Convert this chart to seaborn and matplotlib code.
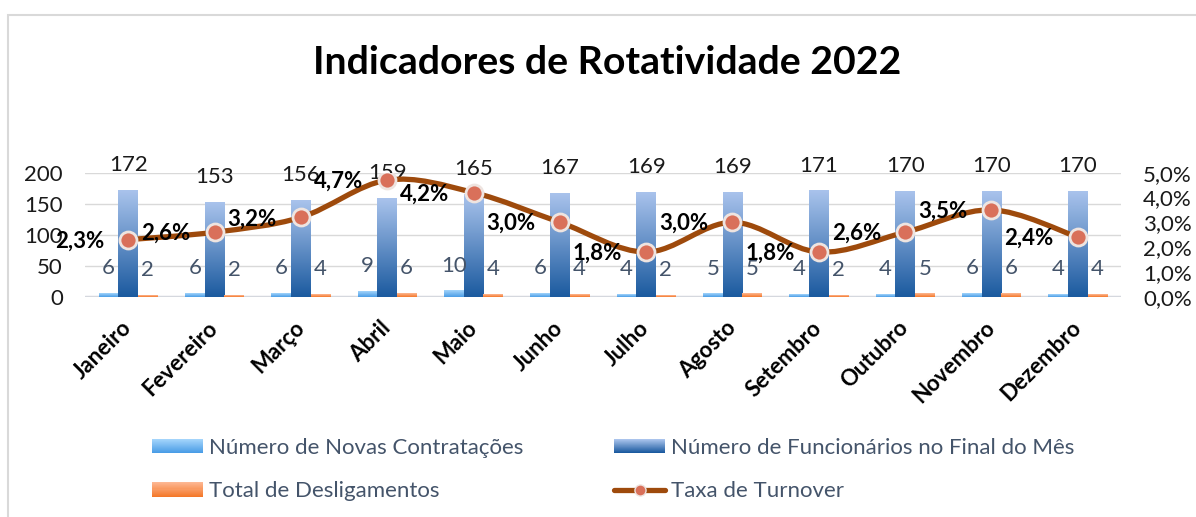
import numpy as np
import pandas as pd
import seaborn as sns
import matplotlib.pyplot as plt
from matplotlib.colors import LinearSegmentedColormap
from matplotlib.path import Path
from matplotlib.patches import PathPatch, Patch, Rectangle
from matplotlib.lines import Line2D
from matplotlib.legend_handler import HandlerBase
from matplotlib.ticker import FuncFormatter

# Dados do gráfico
meses = ["Janeiro", "Fevereiro", "Março", "Abril", "Maio", "Junho",
         "Julho", "Agosto", "Setembro", "Outubro", "Novembro", "Dezembro"]
novas_contratacoes = [6, 6, 6, 9, 10, 6, 4, 5, 4, 4, 6, 4]
funcionarios_final = [172, 153, 156, 159, 165, 167, 169, 169, 171, 170, 170, 170]
desligamentos = [2, 2, 4, 6, 4, 4, 2, 5, 2, 5, 6, 4]
taxa_turnover = [0.023, 0.026, 0.032, 0.047, 0.042, 0.030,
                 0.018, 0.030, 0.018, 0.026, 0.035, 0.024]

series_names = ["Número de Novas Contratações",
                "Número de Funcionários no Final do Mês",
                "Total de Desligamentos"]
line_name = "Taxa de Turnover"

# gradientes (base, topo) de cada série
gradients = {
    series_names[0]: ("#4a9de6", "#a3d4fb"),
    series_names[1]: ("#1b5a9f", "#a9c3ec"),
    series_names[2]: ("#f4782a", "#fdb792"),
}
cmaps = {k: LinearSegmentedColormap.from_list(k, v) for k, v in gradients.items()}
flat_colors = {k: v[0] for k, v in gradients.items()}
line_color = "#9e4a0c"
label_grey = "#44546a"


def smooth_path(xs, ys):
    # curva suavizada (estilo Excel) passando pelos pontos
    pts = np.column_stack([xs, ys])
    n = len(pts)
    verts = [pts[0]]
    codes = [Path.MOVETO]
    for i in range(n - 1):
        p0 = pts[max(i - 1, 0)]
        p1 = pts[i]
        p2 = pts[i + 1]
        p3 = pts[min(i + 2, n - 1)]
        verts += [p1 + (p2 - p0) / 6, p2 - (p3 - p1) / 6, p2]
        codes += [Path.CURVE4] * 3
    return Path(verts, codes)


class GradientHandler(HandlerBase):
    # retângulo com degradê vertical na legenda
    def __init__(self, cmap):
        super().__init__()
        self.cmap = cmap

    def create_artists(self, legend, orig_handle, xdescent, ydescent,
                       width, height, fontsize, trans):
        n = 14
        arts = []
        for i in range(n):
            arts.append(Rectangle((-xdescent, -ydescent + height * i / n), width,
                                  height / n * 1.05, facecolor=self.cmap(i / (n - 1)),
                                  edgecolor="none", transform=trans))
        return arts


df = pd.DataFrame({
    "mes": meses * 3,
    "serie": [series_names[0]] * 12 + [series_names[1]] * 12 + [series_names[2]] * 12,
    "valor": novas_contratacoes + funcionarios_final + desligamentos,
})

sns.set_theme(style="white")
plt.rcParams["font.family"] = ["Lato", "DejaVu Sans"]

fig = plt.figure(figsize=(11.96, 5.17), dpi=100)
ax = fig.add_axes([85 / 1196, 1 - 296.7 / 517, 1036 / 1196, 124 / 517])

sns.barplot(data=df, x="mes", y="valor", hue="serie", hue_order=series_names,
            palette=flat_colors, width=0.68, errorbar=None, legend=False, ax=ax)

# gradiente vertical nas barras + rótulos de dados
for container, name in zip(ax.containers, series_names):
    for bar in container:
        x0, w, h = bar.get_x(), bar.get_width(), bar.get_height()
        ax.imshow(np.linspace(0, 1, 128).reshape(-1, 1), cmap=cmaps[name], origin="lower",
                  extent=[x0, x0 + w, 0, h], aspect="auto", zorder=2)
        bar.set_visible(False)
        color = "#1a1a1a" if name == series_names[1] else label_grey
        ax.annotate(f"{h:.0f}", (x0 + w / 2, h), xytext=(0, 18),
                    textcoords="offset points", ha="center", va="center",
                    fontsize=16, color=color, annotation_clip=False)

ax.set_xlim(-0.5, 11.5)
ax.set_ylim(0, 200)
ax.set_yticks([0, 50, 100, 150, 200])
ax.yaxis.grid(True, color="#d9d9d9", lw=1)
ax.set_axisbelow(True)
ax.axhline(0, color="#d5d8de", lw=2.5, zorder=1)
ax.set_xlabel("")
ax.set_ylabel("")
ax.tick_params(axis="y", length=0, pad=16, labelsize=16, labelcolor="#1a1a1a")
ax.tick_params(axis="x", length=0, pad=20, labelsize=16, labelcolor="#000000")
plt.setp(ax.get_xticklabels(), rotation=45, ha="right", va="center",
         rotation_mode="anchor", fontweight="bold")
for s in ax.spines.values():
    s.set_visible(False)

# eixo secundário: taxa de turnover
ax2 = ax.twinx()
xs = np.arange(len(meses))
ax2.add_patch(PathPatch(smooth_path(xs, taxa_turnover), fill=False,
                        edgecolor=line_color, lw=3.8, capstyle="round", zorder=3))
sns.scatterplot(x=xs, y=taxa_turnover, ax=ax2, s=150, color="#d9705a",
                edgecolor="#eee4e0", linewidth=2, zorder=4)
for x, v in zip(xs, taxa_turnover):
    ax2.annotate(f"{v * 100:.1f}%".replace(".", ","), (x, v), xytext=(-35, -1),
                 textcoords="offset points", ha="center", va="center",
                 fontsize=16, fontweight="bold", color="#000000", zorder=5)
ax2.set_ylim(0, 0.05)
ax2.set_yticks([0, 0.01, 0.02, 0.03, 0.04, 0.05])
ax2.yaxis.set_major_formatter(FuncFormatter(lambda v, _: f"{v * 100:.1f}%".replace(".", ",")))
ax2.tick_params(axis="y", length=0, pad=16, labelsize=16, labelcolor="#1a1a1a")
ax2.grid(False)
for s in ax2.spines.values():
    s.set_visible(False)
ax2.set_xlim(-0.5, 11.5)

# título
fig.text(0.508, 1 - 63 / 517, "Indicadores de Rotatividade 2022", ha="center",
         va="center", fontsize=28.3, fontweight="bold", color="#000000")

# legenda
bar_handles = [Patch(facecolor=flat_colors[n]) for n in series_names]
line_handle = Line2D([], [], color=line_color, lw=3.8, marker="o", markersize=8,
                     markerfacecolor="#d9705a", markeredgecolor="#eee4e0")
handler_map = {h: GradientHandler(cmaps[n]) for h, n in zip(bar_handles, series_names)}
fig.legend([bar_handles[0], bar_handles[2], bar_handles[1], line_handle],
           [series_names[0], series_names[2], series_names[1], line_name],
           handler_map=handler_map, ncol=2, loc="upper left",
           bbox_to_anchor=(152 / 1196, 1 - 438 / 517),
           frameon=False, fontsize=16, labelcolor=label_grey, handlelength=2.3,
           handleheight=0.6, handletextpad=0.25, columnspacing=4.1,
           labelspacing=1.05, borderpad=0, borderaxespad=0)

# moldura do gráfico
fig.add_artist(Rectangle((8 / 1196, -0.1), 1.2, 1.1 - 15 / 517, transform=fig.transFigure,
                         fill=False, edgecolor="#d9d9d9", lw=1.5))

plt.savefig("out.png", dpi=100)
